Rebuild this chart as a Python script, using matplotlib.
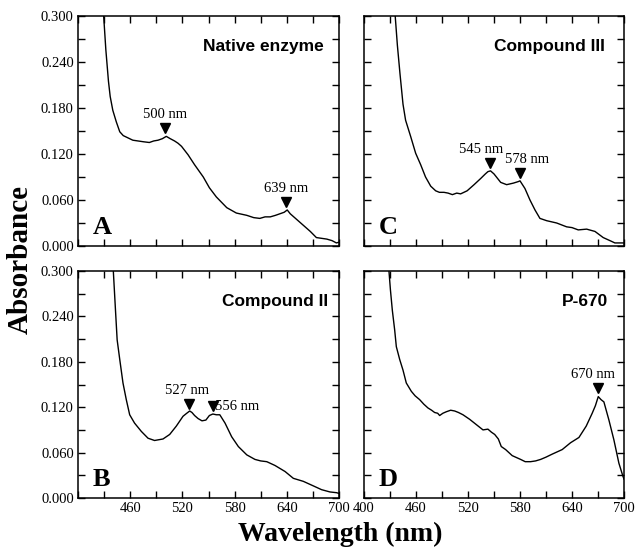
import numpy as np
import matplotlib.pyplot as plt
from matplotlib.ticker import FixedLocator, FuncFormatter

# spectra (wavelength nm, absorbance)
wl_a = [429.5, 432, 435, 437, 440, 444, 448, 452, 457.5, 463, 469, 475, 482, 487,
        492, 497, 501.5, 506, 511, 515, 519, 526.5, 534, 544, 551, 559, 571, 582,
        594, 602, 609, 615, 621, 627, 632, 637, 640.5, 644, 648, 653, 659, 667,
        674, 680, 686, 692, 697, 700]
abs_a = [0.300, 0.256, 0.215, 0.195, 0.177, 0.162, 0.149, 0.144, 0.141, 0.138,
         0.137, 0.136, 0.135, 0.137, 0.138, 0.140, 0.143, 0.140, 0.137, 0.134,
         0.130, 0.119, 0.106, 0.090, 0.076, 0.064, 0.050, 0.043, 0.040, 0.037,
         0.036, 0.038, 0.038, 0.040, 0.042, 0.044, 0.047, 0.042, 0.038, 0.033,
         0.027, 0.019, 0.011, 0.010, 0.009, 0.007, 0.004, 0.005]

wl_b = [440.6, 443, 445, 448, 451.7, 455.5, 459.4, 465, 472.8, 480.5, 488, 497.7,
        505.4, 513, 520.7, 525, 528.4, 531, 534, 538, 542.5, 547, 551, 555, 559,
        563, 569, 576.6, 584.3, 594, 603.4, 610, 617, 626.4, 638, 647.5, 659,
        670.5, 680, 689.6, 697.3, 700]
abs_b = [0.300, 0.250, 0.209, 0.183, 0.152, 0.130, 0.110, 0.099, 0.088, 0.079,
         0.076, 0.078, 0.084, 0.095, 0.108, 0.112, 0.115, 0.113, 0.109, 0.105,
         0.102, 0.103, 0.109, 0.111, 0.110, 0.110, 0.099, 0.081, 0.068, 0.057,
         0.051, 0.049, 0.048, 0.043, 0.035, 0.026, 0.022, 0.016, 0.011, 0.008,
         0.007, 0.006]

wl_c = [436, 438.5, 441.5, 445, 448, 453.8, 459.6, 465.4, 471, 477, 482.7, 487,
        492.3, 497, 502, 507, 511.5, 519, 527, 534.6, 540, 543, 546, 550, 557.7,
        564.6, 572.3, 578, 580, 585.7, 591.5, 597.3, 603, 610.8, 622.3, 633.8,
        640, 647.2, 656.9, 666.5, 676, 683.8, 689.5, 695, 700]
abs_c = [0.300, 0.262, 0.225, 0.185, 0.164, 0.143, 0.121, 0.106, 0.090, 0.078,
         0.072, 0.070, 0.070, 0.069, 0.067, 0.069, 0.068, 0.072, 0.080, 0.088,
         0.094, 0.097, 0.098, 0.094, 0.083, 0.080, 0.082, 0.084, 0.085, 0.075,
         0.060, 0.047, 0.036, 0.033, 0.030, 0.025, 0.024, 0.021, 0.022, 0.019,
         0.011, 0.007, 0.004, 0.004, 0.004]

wl_d = [428.8, 430.5, 432.7, 435.4, 437.3, 441.2, 445, 448.8, 454.6, 459, 464.2,
        469, 473.8, 478, 481.5, 485, 487.3, 491, 495, 500, 504.6, 509, 514.2,
        521.9, 529.6, 537.3, 543, 547, 550.8, 555, 558.4, 563.4, 571, 580.7, 586,
        592.2, 598, 603.8, 610, 617.2, 628.7, 638.3, 648, 656.4, 663.3, 667,
        670.3, 673.5, 676.8, 682.6, 688.3, 694.1, 698.7, 700]
abs_d = [0.300, 0.275, 0.248, 0.222, 0.200, 0.183, 0.169, 0.152, 0.141, 0.135,
         0.130, 0.124, 0.119, 0.116, 0.113, 0.112, 0.109, 0.112, 0.114, 0.116,
         0.115, 0.113, 0.110, 0.104, 0.097, 0.090, 0.091, 0.087, 0.084, 0.078,
         0.068, 0.064, 0.056, 0.051, 0.048, 0.048, 0.049, 0.051, 0.054, 0.058,
         0.064, 0.073, 0.080, 0.095, 0.112, 0.122, 0.134, 0.130, 0.127, 0.103,
         0.077, 0.046, 0.029, 0.025]

titles = ['Native enzyme', 'Compound II', 'Compound III', 'P-670']
title_x = [683, 688, 678, 682]
letters = ['A', 'B', 'C', 'D']

# peak markers: (marker wl, marker abs, label, text wl, align)
peaks_a = [(500, 0.154, '500 nm', 500, 'center'),
           (639, 0.058, '639 nm', 639, 'center')]
peaks_b = [(528, 0.124, '527 nm', 525, 'center'),
           (555.5, 0.121, '556 nm', 558, 'left')]
peaks_c = [(545, 0.108, '545 nm', 535, 'center'),
           (580, 0.095, '578 nm', 588, 'center')]
peaks_d = [(670, 0.145, '670 nm', 664, 'center')]

serif = 'Liberation Serif'
sans = 'Liberation Sans'
plt.rcParams['font.family'] = serif

fig = plt.figure(figsize=(6.38, 5.48), dpi=100)
W, H = 638, 548
boxes = [(78, 16, 339, 246), (78, 271, 339, 498),
         (364, 16, 624, 246), (364, 271, 624, 498)]
data = [(wl_a, abs_a, peaks_a), (wl_b, abs_b, peaks_b),
        (wl_c, abs_c, peaks_c), (wl_d, abs_d, peaks_d)]

for i, (box, (wl, ab, peaks)) in enumerate(zip(boxes, data)):
    x0, y0, x1, y1 = box
    ax = fig.add_axes([x0 / W, 1 - y1 / H, (x1 - x0) / W, (y1 - y0) / H])
    ax.plot(wl, ab, color='k', lw=1.0)
    ax.set_xlim(400, 700)
    ax.set_ylim(0, 0.3)

    xt = np.arange(400, 701, 30)
    yt = np.arange(0, 0.301, 0.03)
    ax.xaxis.set_major_locator(FixedLocator(xt))
    ax.yaxis.set_major_locator(FixedLocator(yt))
    bottom_row = i in (1, 3)
    left_col = i in (0, 1)

    def xfmt(v, pos, first=(i == 3)):
        v = int(round(v))
        if (v - 400) % 60 != 0:
            return ''
        if v == 400 and not first:
            return ''
        return str(v)

    def yfmt(v, pos):
        k = int(round(v / 0.03))
        return '%.3f' % v if k % 2 == 0 else ''

    ax.xaxis.set_major_formatter(FuncFormatter(xfmt))
    ax.yaxis.set_major_formatter(FuncFormatter(yfmt))
    ax.tick_params(direction='in', top=True, right=True, length=5, width=1,
                   labelsize=10.5, pad=3,
                   labelbottom=bottom_row, labelleft=left_col)
    for s in ax.spines.values():
        s.set_linewidth(1.1)

    for (mx, my, lab, tx, ha) in peaks:
        ax.plot(mx, my, marker='v', color='k', ms=7, ls='none')
        if ha == 'center':
            ax.text(tx, my + 0.009, lab, ha=ha, va='bottom', fontsize=10.5)
        else:
            ax.text(tx, my, lab, ha=ha, va='center', fontsize=10.5)

    ax.text(title_x[i], 0.26, titles[i], ha='right', va='center', fontsize=12.5,
            fontweight='bold', family=sans)
    ax.text(417, 0.024, letters[i], ha='left', va='center', fontsize=19,
            fontweight='bold')

fig.text(0.032, 0.526, 'Absorbance', rotation=90, ha='center', va='center',
         fontsize=21, fontweight='bold')
fig.text(0.533, 0.013, 'Wavelength (nm)', ha='center', va='baseline',
         fontsize=20, fontweight='bold')

fig.savefig('out.png', dpi=100)
